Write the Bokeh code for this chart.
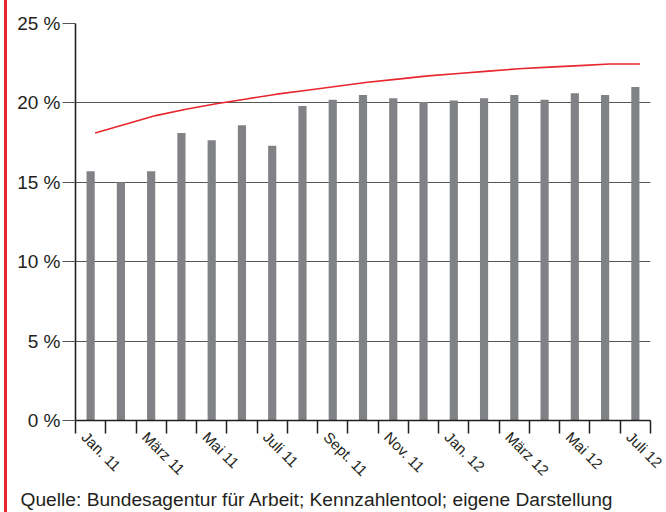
import math
from bokeh.plotting import figure
from bokeh.models import Range1d, FixedTicker, ColumnDataSource, Title
from bokeh.embed import file_html
from bokeh.resources import INLINE

months = ["Jan. 11", "Feb. 11", "März 11", "Apr. 11", "Mai 11", "Juni 11", "Juli 11",
          "Aug. 11", "Sept. 11", "Okt. 11", "Nov. 11", "Dez. 11", "Jan. 12", "Feb. 12",
          "März 12", "Apr. 12", "Mai 12", "Juni 12", "Juli 12"]
shares = [15.7, 15.0, 15.7, 18.1, 17.65, 18.6, 17.3, 19.8, 20.2, 20.5, 20.3, 20.05,
          20.15, 20.3, 20.5, 20.2, 20.6, 20.5, 21.0]
trend = [18.1, 18.65, 19.2, 19.6, 19.95, 20.25, 20.55, 20.8, 21.05, 21.3, 21.5, 21.7,
         21.85, 22.0, 22.15, 22.25, 22.35, 22.45, 22.45]
tick_labels = ["Jan. 11", "März 11", "Mai 11", "Juli 11", "Sept. 11", "Nov. 11",
               "Jan. 12", "März 12", "Mai 12", "Juli 12"]
y_ticks = [0, 5, 10, 15, 20, 25]
source_text = "Quelle: Bundesagentur für Arbeit; Kennzahlentool; eigene Darstellung"

FONT = "Liberation Sans"
TXT = "#231f20"
RED = "#e8262d"
NB = "\u00a0"
n = len(months)
xc = [i + 0.5 for i in range(n)]
xt = [i + 0.65 for i in range(n)]

p = figure(width=659, height=512, output_backend="svg", toolbar_location=None,
           x_range=Range1d(0, n), y_range=Range1d(0, 25),
           min_border_left=68, min_border_right=16, min_border_top=23, min_border_bottom=92)
p.outline_line_color = None
p.background_fill_color = "white"
p.border_fill_color = "white"
# red rule at the left edge of the page
p.styles = {"margin-left": "7px", "box-shadow": f"-3px 0 0 0 {RED}"}

src = ColumnDataSource(dict(x=xc, top=shares, month=months))
p.vbar(x="x", top="top", width=0.27, bottom=0, source=src,
       fill_color="#818285", line_color=None)
p.line(xt, trend, line_color=RED, line_width=1.6)

# grid
p.xgrid.grid_line_color = None
p.ygrid.grid_line_color = "#555555"
p.ygrid.grid_line_width = 1.2
p.ygrid.ticker = FixedTicker(ticks=y_ticks)

# y axis
ya = p.yaxis[0]
ya.ticker = FixedTicker(ticks=y_ticks)
ya.major_label_overrides = {t: f"{t} %" for t in y_ticks}
ya.axis_line_color = TXT
ya.axis_line_width = 1.6
ya.major_tick_in = 0
ya.major_tick_out = 13
ya.major_tick_line_color = "#555555"
ya.major_tick_line_width = 1.2
ya.minor_tick_line_color = None
ya.major_label_standoff = 2
ya.major_label_text_font = FONT
ya.major_label_text_font_size = "19px"
ya.major_label_text_color = TXT

# x axis: ticks at month boundaries, a label at every second one
xa = p.xaxis[0]
xa.ticker = FixedTicker(ticks=list(range(n + 1)))
overrides = {i: "" for i in range(n + 1)}
for k, lab in enumerate(tick_labels):
    overrides[2 * k] = NB * 3 + lab
xa.major_label_overrides = overrides
xa.axis_line_color = TXT
xa.axis_line_width = 1.6
xa.major_tick_in = 0
xa.major_tick_out = 13
xa.major_tick_line_color = TXT
xa.major_tick_line_width = 1.5
xa.minor_tick_line_color = None
xa.major_label_orientation = -math.pi / 4
xa.major_label_standoff = -8
xa.major_label_text_font = FONT
xa.major_label_text_font_size = "15px"
xa.major_label_text_color = TXT

p.add_layout(Title(text=source_text, align="left", offset=-55, standoff=-3,
                   vertical_align="bottom", text_line_height=0.75,
                   text_font=FONT, text_font_size="19.2px", text_font_style="normal",
                   text_color=TXT), "below")

open("out.html", "w").write(file_html(p, INLINE))
